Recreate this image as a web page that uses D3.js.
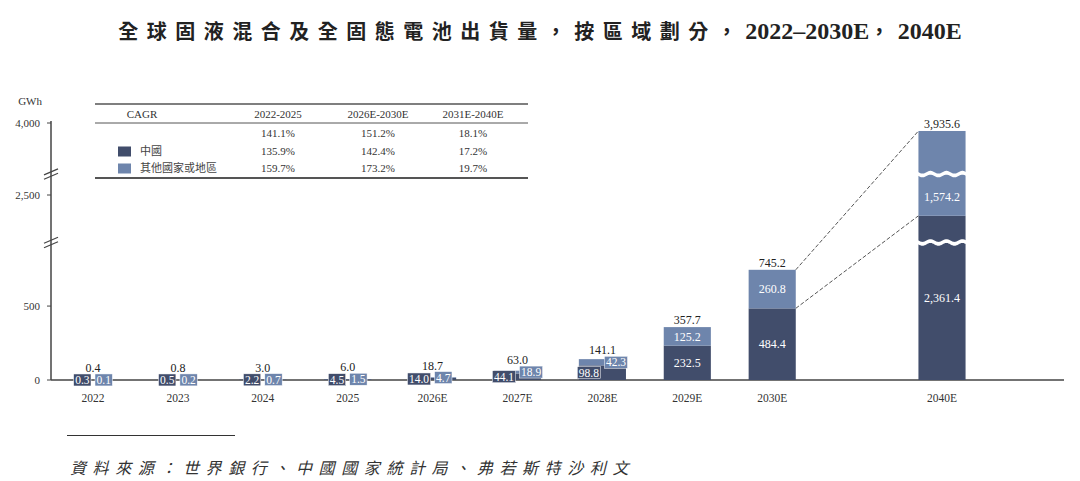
<!DOCTYPE html>
<html>
<head>
<meta charset="utf-8">
<script src="https://cdn.jsdelivr.net/npm/d3@7"></script>
<style>
  body { margin: 0; background: #fff; }
  svg { display: block; }
</style>
</head>
<body>
<div id="chart"></div>
<script>
// data
const years = ["2022", "2023", "2024", "2025", "2026E", "2027E", "2028E", "2029E", "2030E", "2040E"];
const china = [0.3, 0.5, 2.2, 4.5, 14.0, 44.1, 98.8, 232.5, 484.4, 2361.4];
const other = [0.1, 0.2, 0.7, 1.5, 4.7, 18.9, 42.3, 125.2, 260.8, 1574.2];
const totals = [0.4, 0.8, 3.0, 6.0, 18.7, 63.0, 141.1, 357.7, 745.2, 3935.6];
const seriesNames = ["中國", "其他國家或地區"];
const yTicks = [0, 500, 2500, 4000];
const yBreaks = [930, 3100];

const cagrPeriods = ["2022-2025", "2026E-2030E", "2031E-2040E"];
const cagrTotal = ["141.1%", "151.2%", "18.1%"];
const cagrChina = ["135.9%", "142.4%", "17.2%"];
const cagrOther = ["159.7%", "173.2%", "19.7%"];

const W = 1080, H = 481;
const serif = "'Liberation Serif','Times New Roman',serif";
const cjk = "'Noto Sans CJK TC','Noto Sans CJK SC',sans-serif";
const dark = "#414d6b", light = "#6e85ac";
const axisX = 51, baseY = 380;

const svg = d3.select("#chart").append("svg")
    .attr("width", W)
    .attr("height", H);

// title
let title = svg.append("text")
    .attr("x", W / 2)
    .attr("y", 39)
    .attr("text-anchor", "middle")
    .attr("fill", "#222")
    .attr("font-weight", "bold");
title.append("tspan").attr("font-family", cjk).attr("font-size", 20).attr("letter-spacing", 8.5)
    .text("全球固液混合及全固態電池出貨量，按區域劃分，");
title.append("tspan").attr("font-family", serif).attr("font-size", 24).text("2022–2030E");
title.append("tspan").attr("font-family", cjk).attr("font-size", 20).attr("letter-spacing", 8.5).text("，");
title.append("tspan").attr("font-family", serif).attr("font-size", 24).text("2040E");

// scales (y is piecewise to mimic the broken axis)
const y = d3.scaleLinear()
    .domain([0, 940, 2220, 2630, 3600, 4000])
    .range([baseY, 241, 237, 175.5, 172.6, 123]);

const slots = years.slice();
slots.splice(years.indexOf("2030E") + 1, 0, "gap");
const x = d3.scalePoint().domain(slots).range([93, 942]);
const barW = x.step() * 0.555;

// axes
svg.append("line")
    .attr("x1", axisX).attr("x2", 1064)
    .attr("y1", baseY).attr("y2", baseY)
    .attr("stroke", "#444").attr("stroke-width", 1.5);

svg.append("line")
    .attr("x1", axisX).attr("x2", axisX)
    .attr("y1", baseY).attr("y2", y(4000) - 2)
    .attr("stroke", "#444").attr("stroke-width", 1.5);

svg.selectAll(".ytick")
    .data(yTicks)
    .enter()
    .append("line")
    .attr("x1", axisX - 4).attr("x2", axisX)
    .attr("y1", d => y(d)).attr("y2", d => y(d))
    .attr("stroke", "#444");

svg.selectAll(".ylabel")
    .data(yTicks)
    .enter()
    .append("text")
    .attr("x", axisX - 11)
    .attr("y", d => y(d))
    .attr("dy", "0.35em")
    .attr("text-anchor", "end")
    .attr("font-family", serif)
    .attr("font-size", 11)
    .attr("fill", "#333")
    .text(d => d3.format(",")(d));

svg.append("text")
    .attr("x", 42).attr("y", 101).attr("dy", "0.35em")
    .attr("text-anchor", "end")
    .attr("font-family", serif).attr("font-size", 11).attr("fill", "#333")
    .text("GWh");

yBreaks.forEach(function (b) {
    let yb = y(b);
    [-2.2, 2.2].forEach(function (off) {
        svg.append("line")
            .attr("x1", axisX - 7).attr("x2", axisX + 7)
            .attr("y1", yb + off + 3).attr("y2", yb + off - 3)
            .attr("stroke", "#444").attr("stroke-width", 1.2);
    });
});

// x labels
svg.selectAll(".xlabel")
    .data(years)
    .enter()
    .append("text")
    .attr("x", d => x(d))
    .attr("y", 398)
    .attr("dy", "0.35em")
    .attr("text-anchor", "middle")
    .attr("font-family", serif)
    .attr("font-size", 11.5)
    .attr("fill", "#333")
    .text(d => d);

// connectors 2030E -> 2040E
const iA = years.indexOf("2030E"), iB = years.indexOf("2040E");
[[totals[iA], totals[iB]], [china[iA], china[iB]]].forEach(function (p) {
    svg.append("line")
        .attr("x1", x(years[iA]) + barW / 2).attr("y1", y(p[0]))
        .attr("x2", x(years[iB]) - barW / 2).attr("y2", y(p[1]))
        .attr("stroke", "#555").attr("stroke-width", 1)
        .attr("stroke-dasharray", "4,2");
});

const fmt = d3.format(",.1f");
const wave = d3.area().curve(d3.curveBasis);

function drawWave(x0, x1, yb) {
    let pts = d3.range(x0 - 1, x1 + 1.01, 1);
    wave.x(d => d)
        .y0(d => yb - 1.9 + 1.4 * Math.sin((d - x0) / 16 * 2 * Math.PI))
        .y1(d => yb + 1.9 + 1.4 * Math.sin((d - x0) / 16 * 2 * Math.PI));
    svg.append("path").attr("d", wave(pts)).attr("fill", "#fff");
}

function boxLabel(g, text, cx, cy, fill, side) {
    let t = g.append("text")
        .attr("y", cy).attr("dy", "0.35em")
        .attr("font-family", serif).attr("font-size", 11.5)
        .attr("fill", "#fff")
        .text(text);
    let w = t.node().getComputedTextLength() + 3;
    let left = side < 0 ? cx - 2 - w : cx + 2;
    t.attr("x", left + 1.5);
    g.insert("rect", "text")
        .attr("x", left).attr("y", cy - 6)
        .attr("width", w).attr("height", 12)
        .attr("fill", fill)
        .attr("stroke", "#fff").attr("stroke-width", 0.5);
    return cy - 6;
}

function labelY(top, bottom) {
    let mid = (top + bottom) / 2;
    yBreaks.forEach(function (b) {
        let yb = y(b);
        if (Math.abs(mid - yb) < 12 && yb > top && yb < bottom) mid = (yb + 3 + bottom) / 2;
    });
    return mid;
}

years.forEach(function (yr, i) {
    let cx = x(yr), x0 = cx - barW / 2;
    let segs = [
        {lo: 0, hi: china[i], color: dark, v: china[i]},
        {lo: china[i], hi: china[i] + other[i], color: light, v: other[i]}
    ];
    segs.forEach(function (s) {
        svg.append("rect")
            .attr("x", x0).attr("width", barW)
            .attr("y", y(s.hi))
            .attr("height", y(s.lo) - y(s.hi))
            .attr("fill", s.color);
        yBreaks.forEach(function (b) {
            if (b > s.lo && b < s.hi) drawWave(x0, x0 + barW, y(b));
        });
    });

    let g = svg.append("g");
    let hC = y(0) - y(china[i]), hO = y(china[i]) - y(china[i] + other[i]);
    let topLimit = y(totals[i]) - 7.5;
    if (hC >= 16 && hO >= 16) {
        segs.forEach(function (s) {
            g.append("text")
                .attr("x", cx)
                .attr("y", labelY(y(s.hi), y(s.lo)))
                .attr("dy", "0.35em")
                .attr("text-anchor", "middle")
                .attr("font-family", serif).attr("font-size", 12)
                .attr("fill", "#fff")
                .text(fmt(s.v));
        });
    } else {
        let t1 = boxLabel(g, fmt(segs[0].v), cx, (y(segs[0].lo) + y(segs[0].hi)) / 2, dark, -1);
        let t2 = boxLabel(g, fmt(segs[1].v), cx, (y(segs[1].lo) + y(segs[1].hi)) / 2, light, 1);
        topLimit = Math.min(topLimit, Math.min(t1, t2) - 6);
    }

    svg.append("text")
        .attr("x", cx).attr("y", topLimit)
        .attr("dy", "0.35em")
        .attr("text-anchor", "middle")
        .attr("font-family", serif).attr("font-size", 12)
        .attr("fill", "#222")
        .text(fmt(totals[i]));
});

// CAGR table / legend
const tX0 = 95, tX1 = 528;
const colX = [142, 278, 378, 473];
[[104, 1.6], [123, 1], [178, 2]].forEach(function (l) {
    svg.append("line")
        .attr("x1", tX0).attr("x2", tX1)
        .attr("y1", l[0]).attr("y2", l[0])
        .attr("stroke", "#555").attr("stroke-width", l[1]);
});

const header = ["CAGR"].concat(cagrPeriods);
svg.selectAll(".thead")
    .data(header)
    .enter()
    .append("text")
    .attr("x", (d, i) => colX[i])
    .attr("y", 114.5)
    .attr("dy", "0.35em")
    .attr("text-anchor", "middle")
    .attr("font-family", serif).attr("font-size", 11)
    .attr("fill", "#333")
    .text(d => d);

const rowY = [133.5, 151.5, 168.5];
[cagrTotal, cagrChina, cagrOther].forEach(function (row, r) {
    row.forEach(function (v, c) {
        svg.append("text")
            .attr("x", colX[c + 1]).attr("y", rowY[r])
            .attr("dy", "0.35em")
            .attr("text-anchor", "middle")
            .attr("font-family", serif).attr("font-size", 11)
            .attr("fill", "#333")
            .text(v);
    });
});

seriesNames.forEach(function (name, i) {
    svg.append("rect")
        .attr("x", 118).attr("y", rowY[i + 1] - 5)
        .attr("width", 13).attr("height", 10)
        .attr("fill", i === 0 ? dark : light);
    svg.append("text")
        .attr("x", 140).attr("y", rowY[i + 1])
        .attr("dy", "0.35em")
        .attr("font-family", cjk).attr("font-size", 11)
        .attr("fill", "#444")
        .text(name);
});

// source
svg.append("line")
    .attr("x1", 67).attr("x2", 235)
    .attr("y1", 435.5).attr("y2", 435.5)
    .attr("stroke", "#333").attr("stroke-width", 1.2);

svg.append("text")
    .attr("x", 70).attr("y", 474)
    .attr("font-family", cjk).attr("font-size", 16)
    .attr("font-style", "italic")
    .attr("letter-spacing", 6.6)
    .attr("fill", "#333")
    .text("資料來源：世界銀行、中國國家統計局、弗若斯特沙利文");
</script>
</body>
</html>
